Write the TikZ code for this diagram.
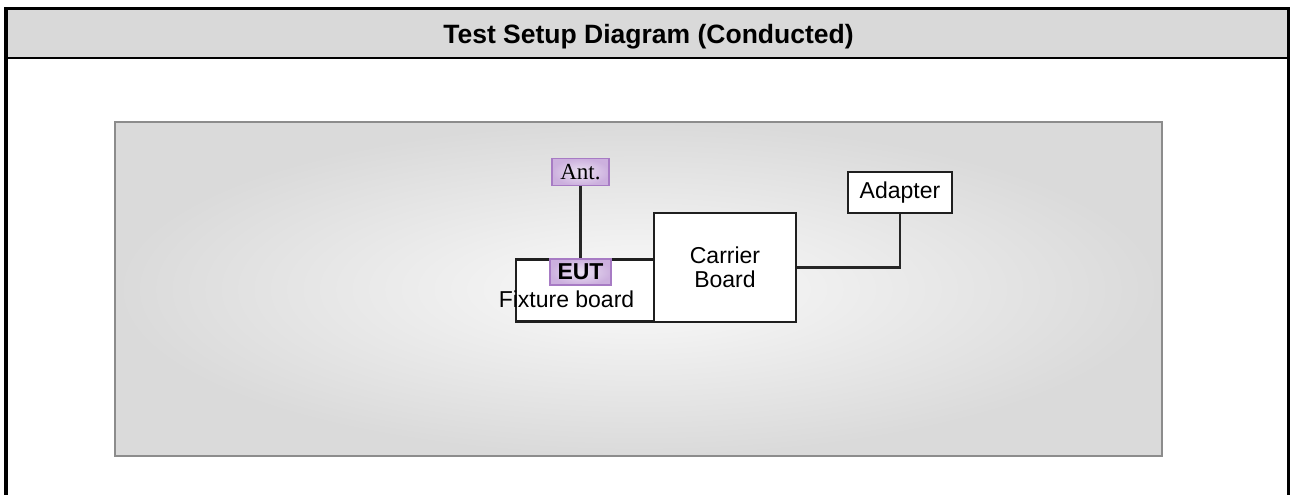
\documentclass[tikz,border=0pt]{standalone}
\usepackage{fontspec}
\setmainfont{Liberation Sans}
\newfontfamily\antfont{Liberation Serif}
\definecolor{headgray}{RGB}{217,217,217}
\definecolor{panelline}{RGB}{140,140,140}
\definecolor{panelin}{RGB}{250,250,250}
\definecolor{panelout}{RGB}{218,218,218}
\definecolor{tagline}{RGB}{167,123,196}
\definecolor{tagin}{RGB}{236,226,243}
\definecolor{tagout}{RGB}{204,176,222}

\begin{document}
\begin{tikzpicture}[x=1pt,y=-1pt]
  \def\fs{23}
  \def\bs{24}

\tikzstyle{box}=[draw=black!88,line width=2.3pt,fill=white,inner sep=0pt,align=center,font=\fontsize{\fs}{\bs}\selectfont]
\tikzstyle{tag}=[draw=tagline,line width=1.8pt,inner color=tagin,outer color=tagout,inner sep=0pt,font=\fontsize{\fs}{\bs}\selectfont]
\tikzstyle{wire}=[draw=black!85,line width=2.4pt]

\useasboundingbox (0,0) rectangle (1290,495);
\fill (4,7) rectangle (8,495);
\fill (4,7) rectangle (1290,10);
\fill (1287,7) rectangle (1290,495);
\fill[headgray] (8,10) rectangle (1287,57);
\fill (8,57) rectangle (1287,59.5);
\node[anchor=base,font=\bfseries\fontsize{26.5}{30}\selectfont] (title) at (648.5,43.3) {Test Setup Diagram (Conducted)};
\draw[draw=panelline,line width=2.4pt,inner color=panelin,outer color=panelout] (115,122) rectangle (1162,456);

\node[box,minimum width=138pt,minimum height=62pt] (fixture) at (585,290.5) {};
\node[anchor=base,font=\fontsize{\fs}{\bs}\selectfont] (fixlbl) at (566.5,307) {Fixture board};
\node[box,minimum width=142pt,minimum height=109pt] (carrier) at (725,267.5) {Carrier\\Board};
\node[box,minimum width=104pt,minimum height=41pt] (adapter) at (900,192.5) {Adapter};
\draw[wire] (carrier.east) -| (adapter.south);
\node[tag,minimum width=61pt,minimum height=26pt,font=\bfseries\fontsize{\fs}{\bs}\selectfont] (eut) at (580.5,272) {EUT};
\node[tag,minimum width=57pt,minimum height=27pt,font=\antfont\fontsize{\fs}{\bs}\selectfont] (ant) at (580.5,172) {Ant.};
\draw[wire] (ant) -- (eut);
\end{tikzpicture}
\end{document}
